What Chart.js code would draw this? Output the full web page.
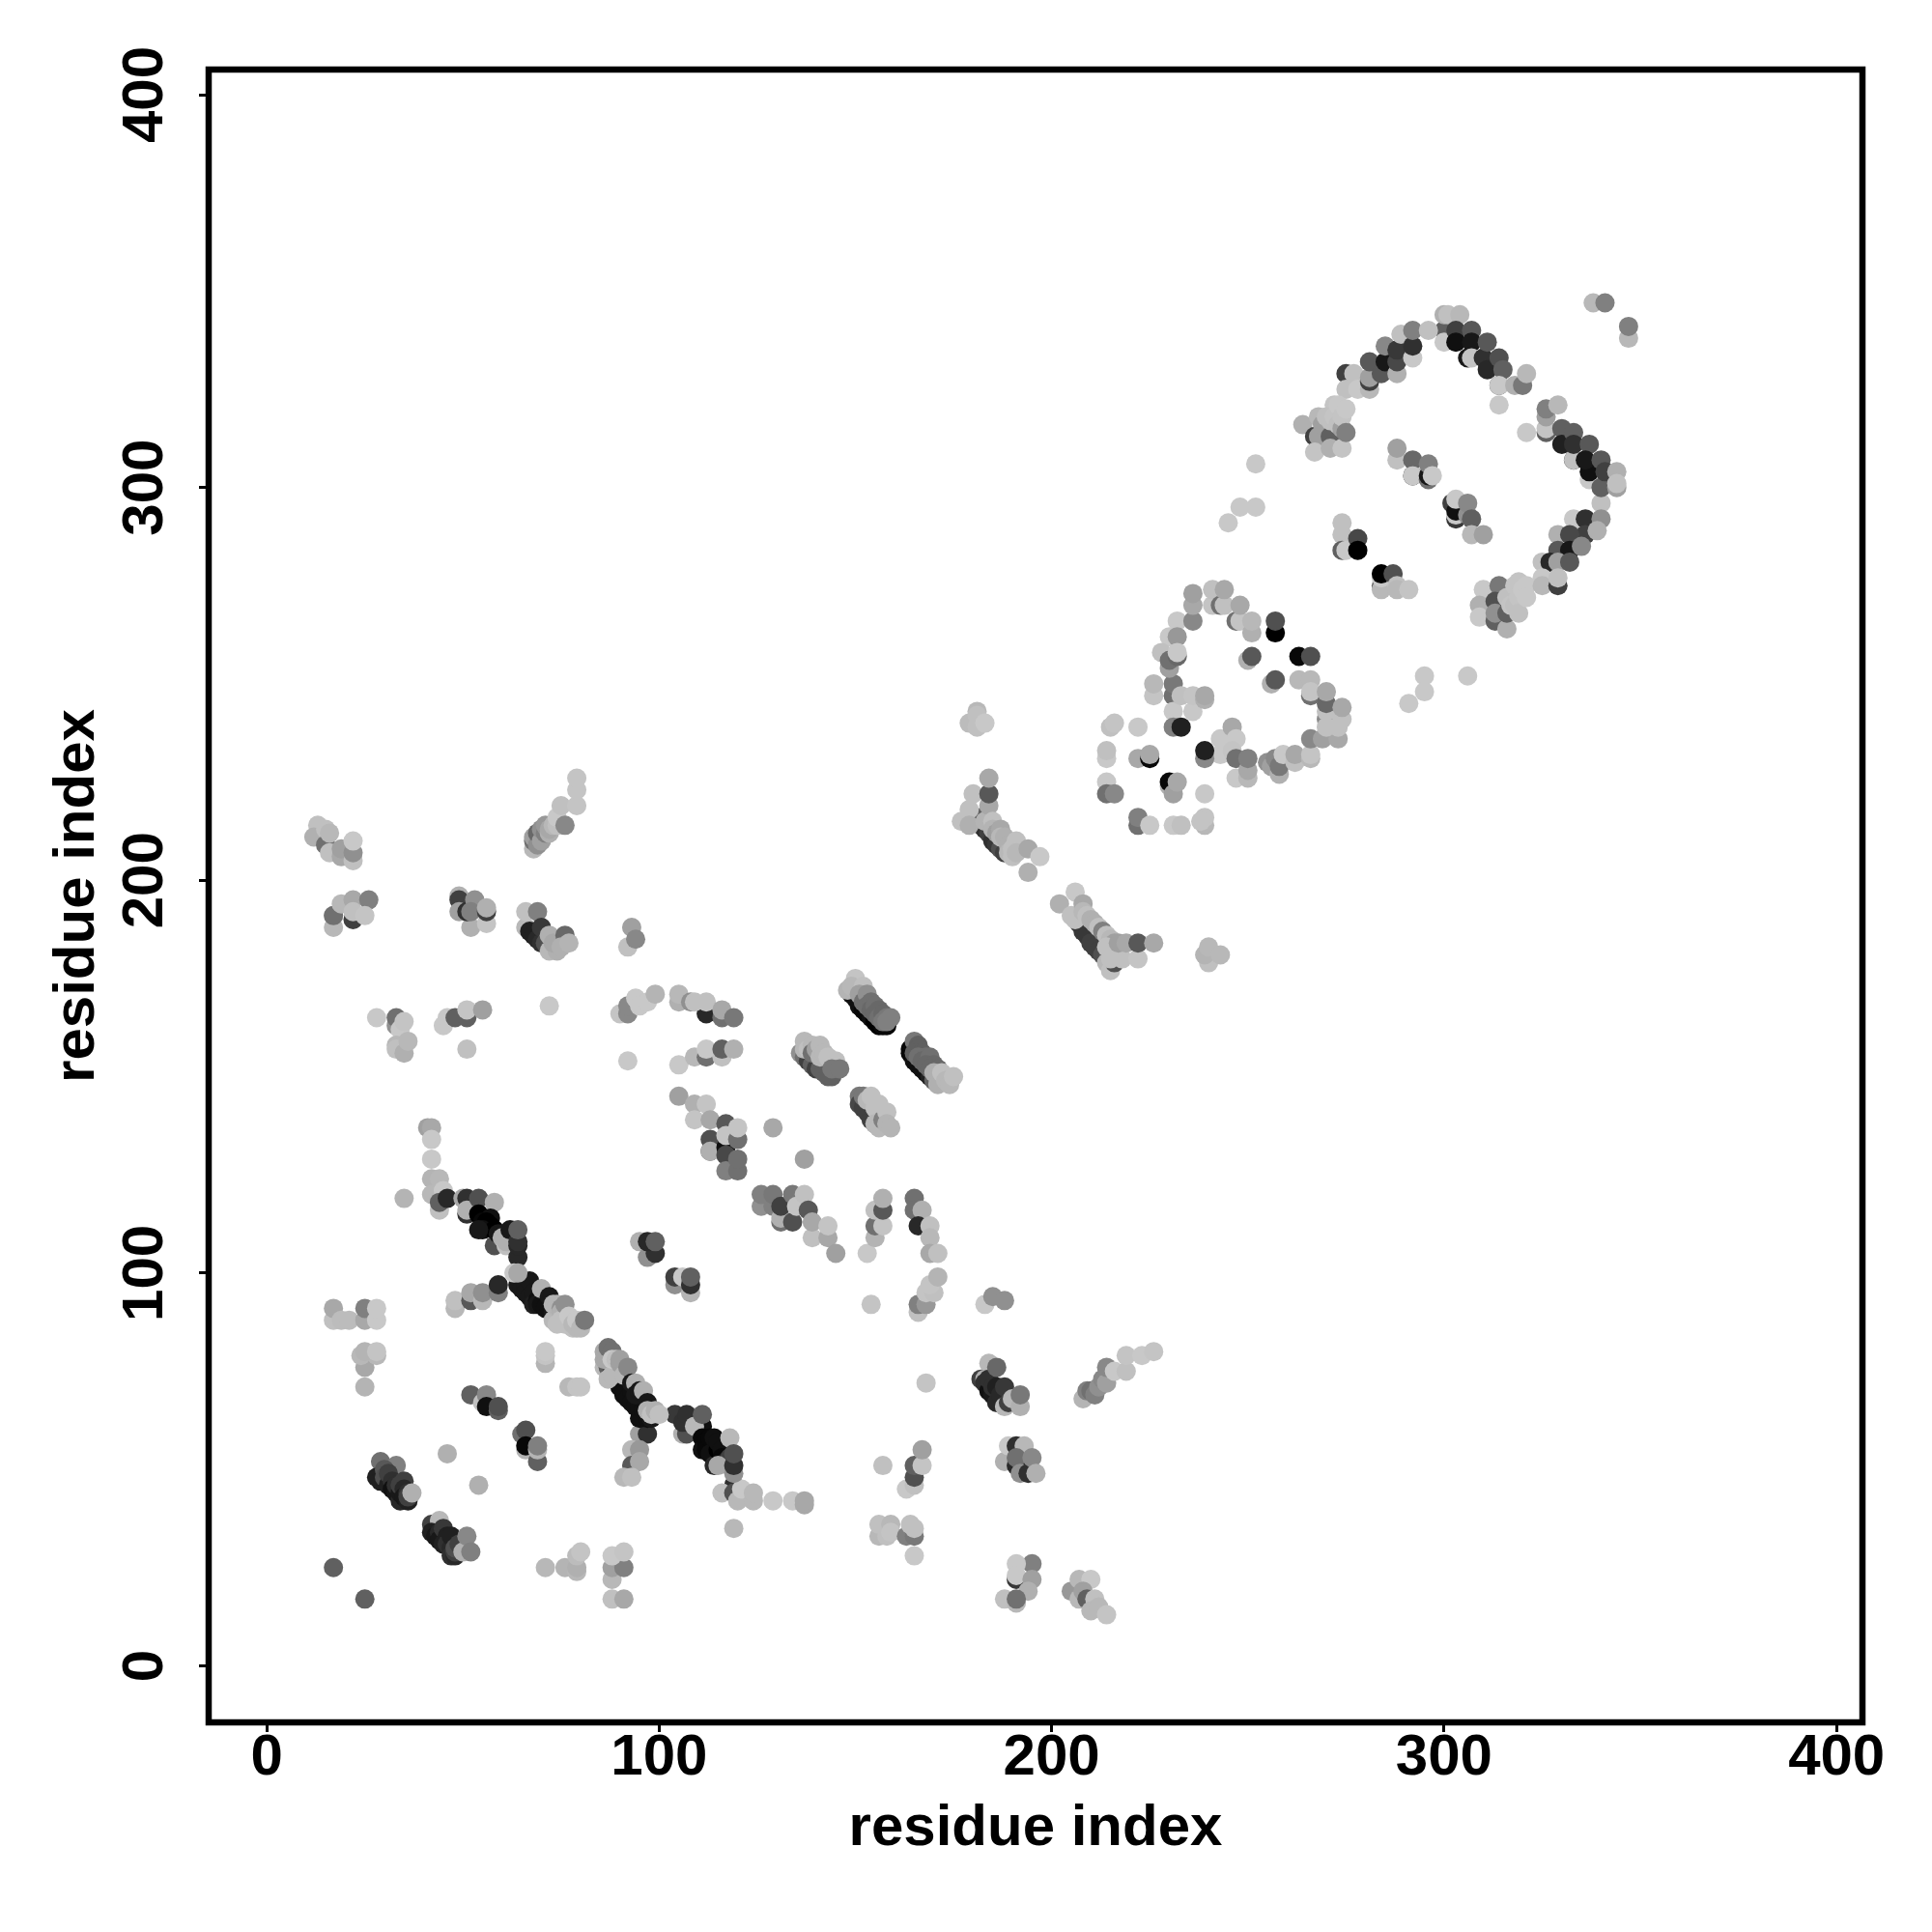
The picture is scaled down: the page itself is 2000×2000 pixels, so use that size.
<!DOCTYPE html>
<html>
<head>
<meta charset="utf-8">
<title>residue contacts</title>
<script src="https://cdn.jsdelivr.net/npm/chart.js@4"></script>
<style>
  html, body { margin: 0; padding: 0; background: #fff; }
  #wrap { width: 2000px; height: 2000px; }
</style>
</head>
<body>
<div id="wrap"><canvas id="myChart" width="2000" height="2000"></canvas></div>
<script>
// --- Data: each point is [residue i, residue j, grey level], listed back to front ---
const xTicks = [0, 100, 200, 300, 400];
const yTicks = [0, 100, 200, 300, 400];

const lowSingles = [[17,25,96],[25,17,96],[46,54,176],[54,46,176],[168,72,196],[119,35,184],[165,28,200]];
const block17x88 = [[17,88,192],[17,91,168],[19,88,188],[21,88,188],[25,88,168],[25,91,128],[28,88,200],[28,91,200]];
const block25x76 = [[25,71,180],[25,76,168],[24,79,184],[28,79,184],[25,80,180],[28,80,196]];
const block71x78 = [[71,77,180],[71,79,196],[71,80,200],[77,71,184],[79,71,196],[80,71,196]];
const block52x67 = [[52,69,96],[55,67,192],[56,69,136],[56,66,16],[59,65,96],[59,66,80]];
const block66x56 = [[65,59,112],[66,60,80],[66,55,180],[66,56,8],[69,52,96],[69,55,180],[69,56,128]];
const strand28x48 = [[29,52,112],[33,51,128],[28,48,32],[29,47,32],[30,50,88],[30,47,32],[30,48,80],[31,46,32],[31,49,64],[32,47,48],[32,45,16],[33,44,24],[33,46,48],[34,42,40],[34,44,24],[34,46,64],[35,47,64],[35,45,40],[35,43,24],[36,42,32],[36,44,48],[36,43,64],[37,44,176]];
const strand42x33 = [[42,36,64],[44,37,184],[42,34,32],[43,33,24],[44,34,40],[44,32,24],[45,31,32],[45,35,56],[46,33,32],[46,31,48],[47,30,40],[47,28,48],[47,33,32],[48,28,40],[48,29,64],[48,30,80],[49,31,64],[50,29,176],[51,33,136],[52,29,128]];
const block71x25 = [[71,25,184],[76,25,180],[79,24,184],[79,25,176],[79,28,188],[80,29,196],[88,17,192],[91,17,168],[88,22,184],[88,25,160],[91,25,128],[88,28,200],[91,29,196]];
const block48x93 = [[48,91,184],[48,93,192],[52,93,88],[52,95,168],[55,93,184],[55,95,144],[59,95,128],[59,97,40]];
const helix64x88 = [[64,97,24],[65,96,24],[66,97,24],[66,95,24],[67,94,24],[67,98,24],[68,95,24],[68,92,32],[69,93,16],[69,92,24],[70,92,16],[71,91,16],[72,91,16],[73,90,24],[63,100,200],[64,100,168],[70,96,176],[72,94,24],[73,88,184],[74,87,192],[73,92,180],[74,92,180],[75,91,144],[75,90,176],[75,88,192],[76,87,192],[76,92,144],[77,87,192],[77,89,200],[78,86,192],[78,87,184],[79,86,184],[79,88,200],[80,86,184],[81,88,120]];
const strand42x120 = [[35,119,180],[41,137,160],[42,137,168],[42,134,200],[42,129,200],[42,124,180],[44,124,184],[42,120,184],[45,121,200],[44,116,192],[44,118,96],[46,119,40],[50,119,168],[51,119,48],[51,115,48],[51,116,176],[54,119,80],[58,118,176],[54,115,0],[57,114,16],[55,113,8],[56,113,0],[57,112,0],[55,111,16],[58,111,0],[54,111,24],[58,107,80],[59,110,24],[60,109,176],[61,107,192],[61,108,176],[62,111,24],[64,104,40],[64,107,40],[64,108,48],[64,111,96]];
const block33x160 = [[28,165,200],[33,163,144],[33,165,112],[34,162,200],[35,164,196],[33,158,184],[33,157,192],[35,156,176],[36,159,184]];
const block45x165 = [[45,163,200],[46,165,200],[48,165,96],[51,165,96],[51,167,196],[55,167,160],[51,157,192],[72,168,200]];
const block12x210 = [[13,214,192],[12,211,176],[15,213,192],[15,209,112],[16,212,184],[16,207,192],[19,206,168],[19,208,160],[22,205,192],[22,207,144],[22,210,200]];
const block17x192 = [[17,188,184],[17,191,184],[17,191,112],[19,194,184],[22,195,168],[22,190,64],[22,192,192],[26,195,128],[25,191,196]];
const block49x192 = [[49,196,176],[49,195,64],[49,192,160],[52,188,176],[51,192,48],[53,195,144],[52,192,128],[56,189,196],[56,192,64],[56,193,176]];
const helix66x186 = [[66,188,184],[66,192,192],[69,192,128],[67,187,32],[68,186,32],[69,185,40],[70,184,48],[70,188,56],[71,184,80],[72,182,184],[74,182,176],[72,186,176],[73,184,168],[76,186,104],[75,183,176],[77,184,180]];
const block92x185 = [[92,183,192],[93,188,160],[94,185,136]];
const strand70x215 = [[68,208,184],[68,210,112],[68,211,160],[69,209,144],[69,212,104],[70,210,160],[70,213,144],[71,212,128],[71,214,152],[72,212,176],[72,213,168],[73,214,184],[74,214,192],[74,216,200],[75,219,192],[76,214,136],[79,219,196],[79,223,196],[79,226,196]];
const helix87x72 = [[86,76,184],[87,76,96],[88,75,80],[89,73,64],[90,73,40],[90,71,16],[91,71,16],[91,69,16],[92,68,16],[93,70,16],[93,67,16],[94,66,16],[95,66,16],[95,63,16],[96,65,16],[96,68,16],[97,63,16],[98,63,24],[86,78,168],[86,80,168],[87,73,184],[87,81,112],[88,80,112],[88,74,184],[88,78,200],[89,78,192],[90,77,160],[90,78,160],[91,74,184],[92,76,136],[93,72,24],[94,72,176],[94,69,24],[95,70,24],[96,70,176],[97,67,24],[97,65,176],[98,64,192],[99,65,176],[100,64,192]];
const helix104x55 = [[104,64,56],[106,59,176],[107,59,80],[106,62,48],[107,64,48],[111,61,16],[109,61,184],[111,64,96],[111,58,8],[111,55,16],[112,57,8],[112,55,8],[113,58,8],[113,54,16],[114,58,16],[114,51,40],[115,55,0],[115,57,16],[116,55,16],[116,53,8],[117,52,32],[118,53,64],[115,51,168],[118,58,184],[119,49,144],[119,51,48],[119,54,80]];
const tail119x44 = [[119,46,48],[116,44,192],[119,44,80],[120,42,184],[121,45,200],[124,42,184],[124,44,184],[129,42,200],[134,42,200],[137,41,168],[137,42,168]];
const block93x55 = [[95,59,160],[97,59,48],[93,55,184],[95,55,152],[93,51,88],[95,52,168],[91,48,184],[93,48,192]];
const block97x106 = [[95,108,176],[97,104,144],[99,105,48],[97,108,40],[99,108,96]];
const block106x98 = [[104,97,144],[104,99,64],[106,99,200],[108,95,180],[108,97,48],[108,99,96]];
const block155x112 = [[153,105,200],[155,109,180],[155,112,112],[157,112,196],[155,116,192],[157,116,88],[157,119,176]];
const block167x112 = [[165,119,112],[165,116,112],[167,116,176],[166,112,40],[169,112,192],[169,109,184],[169,105,168],[171,105,192]];
const block168x95 = [[166,90,192],[166,92,128],[168,92,152],[168,95,196],[170,95,192],[169,97,196],[171,99,180],[154,92,196]];
const block185x93 = [[183,92,200],[185,94,144],[188,93,144]];
const helix184x72 = [[184,77,184],[182,73,64],[183,73,176],[183,72,48],[184,70,16],[184,73,48],[185,69,24],[185,71,48],[186,71,32],[186,67,40],[187,69,40],[188,66,184],[188,71,56],[189,67,64],[190,68,184],[192,66,176],[186,76,104],[192,69,120]];
const block191x52 = [[188,52,176],[189,56,200],[191,56,48],[193,56,184],[191,51,40],[191,53,112],[192,49,144],[194,49,48],[195,53,136],[196,49,176]];
const block164x48 = [[157,51,192],[163,45,200],[165,46,192],[165,48,80],[165,51,96],[167,51,196],[167,55,160]];
const block160x35 = [[156,33,184],[156,36,192],[158,33,192],[159,36,184],[159,34,196],[163,33,128],[165,33,120],[164,36,192],[165,35,192]];
const block191x21 = [[195,26,128],[191,26,200],[191,22,56],[191,23,200],[195,22,160],[194,19,176],[188,17,192],[191,16,184],[191,17,112]];
const block207x17 = [[205,19,152],[207,22,184],[210,22,200],[207,17,184],[208,19,160],[209,17,96],[211,17,192],[210,14,184],[212,15,184],[214,13,196]];
const strand210x72 = [[208,68,180],[209,70,128],[210,70,112],[211,69,128],[212,71,144],[213,73,136],[214,72,160],[214,76,136],[216,75,200],[219,75,192],[219,79,196],[223,79,200],[226,80,196]];
const arc90x168 = [[90,166,196],[92,166,136],[92,168,136],[94,170,200],[95,168,200],[97,169,200],[99,171,180]];
const arc105x168 = [[105,169,176],[105,171,184],[108,169,144],[112,166,40],[109,169,192],[112,169,192],[116,165,112],[116,167,168],[119,165,120]];
const block110x155 = [[92,154,200],[105,153,200],[109,155,184],[112,155,112],[112,157,200],[116,155,192],[116,157,96],[119,157,176]];
const block115x135 = [[105,145,160],[109,143,176],[112,143,196],[109,139,196],[113,139,168],[113,134,80],[113,131,96],[113,131,176],[117,138,88],[117,132,16],[117,135,196],[117,130,72],[117,126,128],[120,126,112],[120,129,112],[120,134,112],[120,137,196],[129,137,168],[137,129,160]];
const block130x115 = [[126,117,144],[126,120,128],[129,117,128],[129,120,120],[131,113,112],[131,114,176],[131,117,64],[134,113,80],[134,120,120],[135,117,196],[137,120,192],[138,116,88],[139,109,192],[139,113,168],[143,109,168],[143,112,196],[145,105,160]];
const helix154x168 = [[149,171,24],[150,170,16],[151,168,16],[152,167,8],[153,166,8],[154,165,16],[155,164,0],[156,163,0],[157,163,8],[158,163,8],[148,172,180],[150,175,196],[149,173,184],[152,173,192],[151,171,160],[152,169,112],[153,171,144],[153,168,112],[154,169,112],[154,167,104],[155,168,112],[155,166,104],[156,167,104],[156,165,112],[157,166,104],[157,164,120],[158,165,120],[158,164,128],[159,165,128]];
const helix140x155 = [[136,156,144],[137,155,112],[138,154,64],[139,153,96],[140,152,64],[141,152,96],[142,151,96],[143,150,96],[144,150,96],[137,159,184],[137,157,184],[138,157,192],[139,158,184],[139,156,112],[140,157,160],[141,158,184],[141,155,184],[142,156,184],[143,155,192],[145,154,192],[144,152,120],[146,152,120]];
const helix154x140 = [[151,145,120],[151,143,72],[152,142,64],[153,141,64],[154,139,64],[155,138,120],[152,145,120],[153,144,184],[154,145,192],[155,142,192],[156,143,192],[155,138,184],[156,137,184],[157,139,128],[158,141,192],[158,138,180],[159,137,180]];
const helix168x152 = [[164,157,8],[164,156,8],[165,155,8],[165,154,16],[166,153,16],[167,152,16],[168,151,16],[169,150,32],[165,159,120],[166,158,96],[166,157,96],[165,156,96],[167,156,96],[166,155,112],[168,155,112],[167,154,104],[169,155,112],[168,153,104],[170,153,104],[169,152,104],[171,152,104],[170,149,96],[170,151,176],[171,148,176],[172,151,192],[173,149,184],[174,148,184],[175,150,192]];
const block181x241 = [[181,243,184],[179,240,188],[181,242,192],[181,239,192],[183,240,200]];
const helix184x212 = [[180,215,80],[181,215,80],[182,216,96],[182,214,64],[183,213,48],[184,212,64],[185,210,48],[186,209,56],[187,208,80],[188,207,64],[177,215,192],[179,218,192],[180,222,192],[179,214,176],[183,215,180],[184,219,168],[184,222,88],[184,226,168],[185,215,192],[185,213,180],[186,212,160],[187,213,168],[187,211,184],[188,211,176],[189,209,176],[189,207,184],[190,208,192],[190,206,192],[191,210,192],[191,207,184],[194,202,176],[194,208,168],[197,206,200]];
const helix210x186 = [[207,189,64],[208,187,56],[209,186,56],[210,184,64],[211,183,64],[212,182,64],[213,181,80],[202,194,176],[206,197,200],[205,191,192],[206,190,192],[208,194,168],[208,192,184],[209,191,192],[210,190,176],[211,189,176],[212,188,192],[213,187,128],[214,186,192],[215,185,184],[216,184,160],[214,183,192],[214,179,184],[215,177,192],[216,179,80],[215,180,192],[217,182,192],[218,180,192],[217,184,160],[219,184,168],[222,180,196],[222,184,88],[226,184,168]];
const block241x181 = [[240,179,192],[239,181,180],[240,183,184],[243,181,184]];
const heartLeft = [[214,231,200],[214,233,192],[215,239,192],[216,240,196],[222,239,200],[222,231,168],[225,231,8],[225,232,168],[214,225,200],[214,222,112],[216,222,136],[230,224,176],[230,225,8],[231,222,160],[232,225,168],[239,222,200]];
const heartBase = [[222,214,112],[222,216,128],[225,214,200],[231,214,200],[233,214,192],[239,214,184],[239,216,196],[238,215,196]];
const heartTop = [[232,266,200],[230,262,200],[232,262,152],[228,258,192],[230,254,160],[230,256,112],[232,257,104],[232,258,200],[236,266,136],[236,270,168],[236,273,160],[241,270,196],[241,274,192],[243,270,112],[244,270,192],[244,274,168],[247,266,112],[248,266,196],[248,270,168],[251,263,176],[251,266,184]];
const heartInner = [[257,263,0],[257,266,80],[263,257,8],[266,257,80],[250,256,176],[251,257,88],[256,250,176],[257,251,88]];
const heartMiddle = [[226,247,196],[226,250,184],[231,247,112],[231,250,120],[231,243,200],[233,247,192],[236,243,200],[236,247,196],[239,246,176],[239,247,168],[231,239,128],[233,239,32],[239,231,136],[239,233,32]];
const heartLower = [[243,232,200],[243,236,200],[246,239,168],[247,236,200],[246,233,196],[247,231,112],[247,226,200],[250,226,184],[250,228,168],[250,231,128]];
const heartRight = [[255,230,144],[256,229,160],[258,227,176],[257,231,136],[258,229,120],[259,232,200],[262,230,192],[262,232,168],[266,231,184],[266,232,196],[266,236,136],[269,236,160],[273,236,168],[263,251,184],[266,251,184],[266,247,112],[266,248,196],[270,241,136],[270,239,192],[270,243,192],[270,245,104],[270,248,168],[273,239,192],[274,241,192],[274,244,168]];
const farScatter = [[252,306,200],[248,295,200],[252,295,200],[245,291,200],[295,252,200],[295,248,200],[291,245,200],[306,252,200],[321,314,200],[314,321,200]];
const cornerTop = [[338,347,184],[341,347,128],[347,338,184],[347,341,128]];
const arcLeft = [[264,316,176],[267,313,64],[268,313,160],[268,318,184],[267,309,196],[269,316,160],[271,313,96],[271,310,176],[271,317,192],[272,321,196],[270,318,192],[272,318,196],[273,321,200],[273,316,192],[274,315,160],[274,318,196],[274,310,196],[275,314,128],[275,320,200]];
const arcUp = [[275,329,64],[277,329,192],[275,325,192],[278,325,200],[281,325,184],[281,327,64],[281,328,160],[281,332,88],[284,329,88],[285,332,24],[285,336,136],[288,329,176],[288,332,72],[288,335,56],[289,339,192],[292,333,200],[292,336,48],[292,340,128],[296,340,192]];
const arcCrest = [[300,340,96],[300,344,176],[301,344,192],[304,344,184],[300,337,200],[303,340,64],[303,337,16],[307,340,88],[307,337,24],[306,333,24],[307,333,196],[310,333,48],[311,330,40],[311,337,88],[314,333,80],[315,330,96],[314,326,80],[314,326,200],[318,326,176],[320,326,120],[321,329,184]];
const arcRight = [[326,314,96],[326,315,196],[326,318,160],[326,320,128],[329,321,184],[330,315,96],[330,311,32],[333,307,32],[333,307,192],[333,314,96],[333,311,48],[337,302,200],[337,311,88],[337,304,16],[336,307,24],[340,300,96],[340,307,88],[341,304,64],[344,304,176],[344,300,160],[344,301,192]];
const arcDown = [[340,296,192],[333,292,200],[336,292,48],[340,292,144],[329,288,176],[336,288,64],[339,289,176],[329,284,88],[332,288,72],[332,284,24],[335,285,136],[325,281,192],[327,281,40],[329,281,160],[332,281,88],[325,277,200],[325,275,184],[329,275,64],[329,277,192]];
const clusterLowRight = [[310,274,200],[309,270,176],[309,267,200],[314,275,120],[313,271,80],[313,266,96],[313,268,144],[316,264,176],[316,268,96],[316,272,192],[317,270,196],[318,270,192],[318,275,196],[319,276,196],[319,272,196],[319,268,192],[320,274,200],[321,275,200],[321,272,200]];
const inner288 = [[288,307,192],[288,310,160],[292,307,104],[292,303,40],[292,303,200],[296,302,112],[296,303,24],[296,306,128],[297,303,200]];
const inner302 = [[303,292,56],[303,293,200],[302,296,64],[303,294,16],[303,297,200],[306,293,144],[306,296,136],[307,292,96],[307,288,184],[310,288,160]];
const inner274 = [[274,291,192],[274,288,192],[274,284,96],[275,284,200],[278,287,72],[278,284,0]];
const inner284 = [[284,275,96],[284,274,184],[284,277,200],[284,278,0],[287,278,80],[288,275,192],[288,274,184],[291,274,196]];

const pointGroups = [
  lowSingles, block17x88, block25x76, block71x78, block52x67, block66x56, strand28x48, strand42x33,
  block71x25, block48x93, helix64x88, strand42x120, block33x160, block45x165, block12x210, block17x192,
  block49x192, helix66x186, block92x185, strand70x215, helix87x72, helix104x55, tail119x44, block93x55,
  block97x106, block106x98, block155x112, block167x112, block168x95, block185x93, helix184x72, block191x52,
  block164x48, block160x35, block191x21, block207x17, strand210x72, arc90x168, arc105x168, block110x155,
  block115x135, block130x115, helix154x168, helix140x155, helix154x140, helix168x152, block181x241,
  helix184x212, helix210x186, block241x181, heartLeft, heartBase, heartTop, heartInner, heartMiddle,
  heartLower, heartRight, farScatter, cornerTop, arcLeft, arcUp, arcCrest, arcRight, arcDown,
  clusterLowRight, inner288, inner302, inner274, inner284
];

const greyOf = v => `rgb(${v},${v},${v})`;

// --- Cadre complet autour de la zone de tracé ---
const framePlugin = {
  id: 'frame',
  afterDraw(chart) {
    const { ctx, chartArea: a } = chart;
    ctx.save();
    ctx.strokeStyle = '#000';
    ctx.lineWidth = 6.5;
    ctx.strokeRect(a.left, a.top, a.right - a.left, a.bottom - a.top);
    ctx.restore();
  }
};

const labelFont = { family: '"Liberation Sans"', size: 60, weight: 'bold' };

const ctx = document.getElementById('myChart').getContext('2d');
new Chart(ctx, {
  type: 'scatter',
  data: {
    datasets: pointGroups.map(group => ({
      data: group.map(p => ({ x: p[0], y: p[1] })),
      backgroundColor: group.map(p => greyOf(p[2])),
      pointRadius: 10,
      pointBorderWidth: 0
    }))
  },
  options: {
    responsive: false,
    devicePixelRatio: 1,
    animation: false,
    layout: { padding: { top: 72, right: 72, left: 0, bottom: 0 } },
    plugins: { legend: { display: false }, tooltip: { enabled: false }, title: { display: false } },
    scales: {
      x: {
        type: 'linear',
        min: -14.8,
        max: 406.6,
        afterFit: s => { s.height = 217; },
        afterBuildTicks: s => { s.ticks = xTicks.map(v => ({ value: v })); },
        grid: { drawOnChartArea: false, color: '#000', lineWidth: 3, tickLength: 10, drawTicks: true },
        border: { display: false },
        ticks: { color: '#000', font: labelFont, padding: -9, maxRotation: 0, minRotation: 0 },
        title: { display: true, text: 'residue index', color: '#000', font: labelFont, padding: { top: 0, bottom: 71 } }
      },
      y: {
        type: 'linear',
        min: -14.4,
        max: 406.4,
        afterFit: s => { s.width = 216; },
        afterBuildTicks: s => { s.ticks = yTicks.map(v => ({ value: v })); },
        grid: { drawOnChartArea: false, color: '#000', lineWidth: 3, tickLength: 10, drawTicks: true },
        border: { display: false },
        ticks: { color: '#000', font: labelFont, padding: 4, minRotation: 90, maxRotation: 90, crossAlign: 'center' },
        title: { display: true, text: 'residue index', color: '#000', font: labelFont, padding: { top: 44, bottom: 0 } }
      }
    }
  },
  plugins: [framePlugin]
});
</script>
</body>
</html>
